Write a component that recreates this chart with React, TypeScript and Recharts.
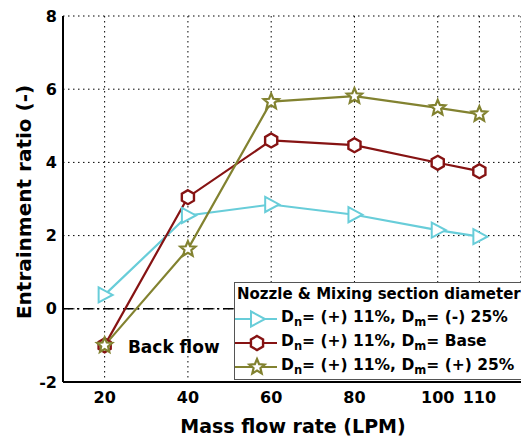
import { CartesianGrid, Line, LineChart, ReferenceDot, ReferenceLine, XAxis, YAxis } from "recharts";

const massFlow = [20, 40, 60, 80, 100, 110];
const ratioDmMinus25 = [0.38, 2.55, 2.85, 2.57, 2.15, 1.97];
const ratioDmBase = [-1.0, 3.05, 4.6, 4.47, 3.99, 3.76];
const ratioDmPlus25 = [-1.0, 1.63, 5.66, 5.81, 5.49, 5.32];

const yTicks = [-2, 0, 2, 4, 6, 8];
const yMinorTicks = [-1, 1, 3, 5, 7];
const topTicks = [12, 14, 16, 18, 20, 22, 24, 26, 28, 30, 32, 34, 36, 38, 40, 42, 44, 46, 48, 50, 52, 54, 56, 58, 60, 62, 64, 66, 68, 70, 72, 74, 76, 78, 80, 82, 84, 86, 88, 90, 92, 94, 96, 98, 100, 102, 104, 106, 108, 110, 112, 114, 116, 118];

const CYAN = "#68cdd9";
const RED = "#861313";
const OLIVE = "#828230";
const FONT = "'DejaVu Sans', Verdana, sans-serif";

const data = massFlow.map((x, i) => ({
  x,
  a: ratioDmMinus25[i],
  b: ratioDmBase[i],
  c: ratioDmPlus25[i],
}));

// marker shapes
function Tri({ cx, cy, color = CYAN }: any) {
  if (cx == null || cy == null) return null;
  return (
    <polygon
      points={`${cx - 6},${cy - 7.5} ${cx + 8},${cy} ${cx - 6},${cy + 7.5}`}
      fill="#fff"
      stroke={color}
      strokeWidth={2}
    />
  );
}

function Hex({ cx, cy, color = RED }: any) {
  if (cx == null || cy == null) return null;
  const r = 7;
  const pts = [0, 1, 2, 3, 4, 5]
    .map((k) => {
      const a = (Math.PI / 3) * k - Math.PI / 2;
      return `${cx + r * Math.cos(a)},${cy + r * Math.sin(a)}`;
    })
    .join(" ");
  return <polygon points={pts} fill="#fff" stroke={color} strokeWidth={2.4} />;
}

function Star({ cx, cy, color = OLIVE }: any) {
  if (cx == null || cy == null) return null;
  const pts: string[] = [];
  for (let k = 0; k < 10; k++) {
    const r = k % 2 === 0 ? 8 : 3.6;
    const a = (Math.PI / 5) * k - Math.PI / 2;
    pts.push(`${cx + r * Math.cos(a)},${cy + r * Math.sin(a)}`);
  }
  return <polygon points={pts.join(" ")} fill="#fff" stroke={color} strokeWidth={2.2} />;
}

const legendRows = [
  { color: CYAN, Shape: Tri, m: "(-) 25%" },
  { color: RED, Shape: Hex, m: "Base" },
  { color: OLIVE, Shape: Star, m: "(+) 25%" },
];

function LegendBox() {
  return (
    <div
      style={{
        position: "absolute",
        left: 234,
        top: 282,
        width: 300,
        height: 98,
        border: "1.5px solid #555",
        background: "#fff",
        fontFamily: FONT,
        fontWeight: "bold",
        fontSize: 15,
        color: "#000",
        boxSizing: "border-box",
      }}
    >
      <div style={{ position: "absolute", left: 2, top: 2, whiteSpace: "nowrap" }}>
        Nozzle &amp; Mixing section diameter
      </div>
      {legendRows.map(({ color, Shape, m }, i) => (
        <div
          key={i}
          style={{ position: "absolute", left: 0, top: 25 + i * 24, height: 22, display: "flex", alignItems: "center", whiteSpace: "nowrap", fontSize: 15.5 }}
        >
          <svg width={44} height={22}>
            <line x1={0} x2={42} y1={11} y2={11} stroke={color} strokeWidth={2} />
            <Shape cx={22} cy={11} color={color} />
          </svg>
          <span style={{ marginLeft: 2 }}>
            D<sub style={{ fontSize: 11.5 }}>n</sub>= (+) 11%, D<sub style={{ fontSize: 11.5 }}>m</sub>= {m}
          </span>
        </div>
      ))}
    </div>
  );
}

const tickStyle = { fontFamily: FONT, fontWeight: "bold", fontSize: 16, fill: "#000" } as any;

export default function App() {
  return (
    <div style={{ position: "absolute", left: 0, top: 0, width: 521, height: 444, background: "#fff", overflow: "hidden" }}>
      <LineChart width={521} height={444} data={data} margin={{ top: 16, right: 0, bottom: 0, left: 0 }}>
        <CartesianGrid stroke="#000" strokeDasharray="1.5 3.5" strokeWidth={1} />
        <XAxis
          dataKey="x"
          type="number"
          domain={[10, 120]}
          ticks={massFlow}
          height={62}
          tickLine={false}
          axisLine={{ stroke: "#000", strokeWidth: 2 }}
          tick={tickStyle}
          tickMargin={4}
          label={{
            content: () => (
              <text x={293} y={433} textAnchor="middle" fontFamily={FONT} fontWeight="bold" fontSize={19} fill="#000">
                Mass flow rate (LPM)
              </text>
            ),
          }}
        />
        <XAxis
          xAxisId="top"
          dataKey="x"
          type="number"
          orientation="top"
          domain={[10, 120]}
          ticks={topTicks}
          height={0}
          mirror
          tickSize={3}
          tick={() => <g />}
          axisLine={{ stroke: "#000", strokeWidth: 2 }}
          tickLine={{ stroke: "#000" }}
        />
        <YAxis
          type="number"
          domain={[-2, 8]}
          ticks={yTicks}
          width={63}
          tickLine={false}
          axisLine={{ stroke: "#000", strokeWidth: 2 }}
          tick={tickStyle}
          tickMargin={0}
          label={{
            content: () => (
              <text
                x={24}
                y={202}
                transform="rotate(-90 24 202)"
                textAnchor="middle"
                dominantBaseline="central"
                fontFamily={FONT}
                fontWeight="bold"
                fontSize={20}
                fill="#000"
              >
                Entrainment ratio (-)
              </text>
            ),
          }}
        />
        <YAxis
          yAxisId="minor"
          type="number"
          domain={[-2, 8]}
          ticks={yMinorTicks}
          width={0}
          mirror
          tickSize={5}
          tick={() => <g />}
          axisLine={false}
          tickLine={{ stroke: "#000" }}
        />
        <ReferenceLine y={0} stroke="#000" strokeWidth={1.5} strokeDasharray="10 4 2 4" />
        <Line dataKey="a" stroke={CYAN} strokeWidth={2.2} dot={<Tri />} isAnimationActive={false} />
        <Line dataKey="b" stroke={RED} strokeWidth={2.2} dot={<Hex />} isAnimationActive={false} />
        <Line dataKey="c" stroke={OLIVE} strokeWidth={2.2} dot={<Star />} isAnimationActive={false} />
        <ReferenceDot
          x={36.6}
          y={-1.05}
          r={0}
          label={{ value: "Back flow", position: "center", fontFamily: FONT, fontWeight: "bold", fontSize: 17, fill: "#000" }}
        />
      </LineChart>
      <LegendBox />
    </div>
  );
}
